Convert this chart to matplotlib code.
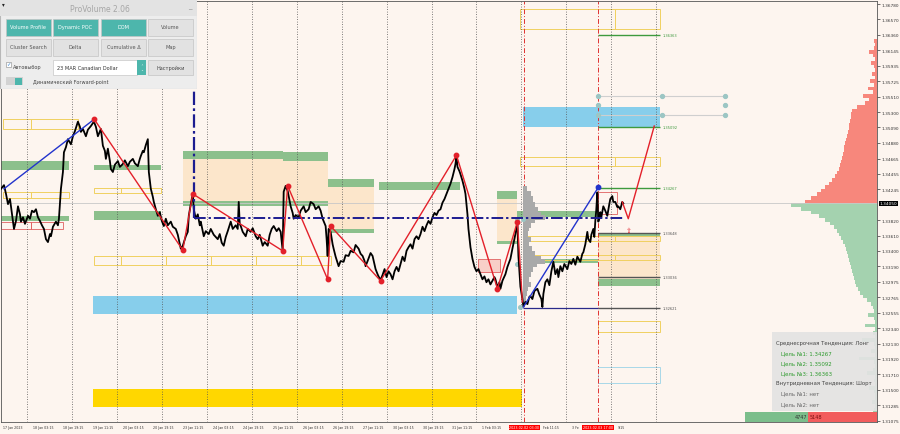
import matplotlib
matplotlib.use("Agg")
import matplotlib.pyplot as plt
from matplotlib.patches import Rectangle
from matplotlib import transforms

BG = "#FDF5EF"

# Close prices of the M15 chart (chart position, price)
price_path = [
    (0, 1.3425), (3, 1.3430), (5, 1.3418), (7, 1.3404), (9, 1.3411), (11, 1.3390), (13, 1.3370), (15, 1.3381), (17, 1.3401), (19, 1.3390),
    (20, 1.3380), (22, 1.3386), (24, 1.3377), (27, 1.3388), (29, 1.3384), (31, 1.3395), (33, 1.3393), (35, 1.3397), (37, 1.3386), (39, 1.3381),
    (41, 1.3375), (43, 1.3370), (45, 1.3356), (47, 1.3352), (49, 1.3363), (50, 1.3360), (52, 1.3373), (55, 1.3380), (57, 1.3375), (58, 1.3384),
    (60, 1.3425), (62, 1.3448), (63, 1.3475), (65, 1.3482), (67, 1.3493), (70, 1.3486), (72, 1.3497), (74, 1.3504), (77, 1.3517), (79, 1.3510),
    (80, 1.3503), (82, 1.3507), (85, 1.3497), (87, 1.3506), (90, 1.3511), (93, 1.3517), (95, 1.3510), (97, 1.3497), (100, 1.3507), (102, 1.3484),
    (104, 1.3477), (105, 1.3466), (107, 1.3480), (109, 1.3463), (110, 1.3452), (112, 1.3448), (114, 1.3458), (117, 1.3463), (119, 1.3455), (122, 1.3459),
    (124, 1.3464), (127, 1.3456), (129, 1.3462), (132, 1.3466), (134, 1.3460), (137, 1.3456), (139, 1.3466), (140, 1.3470), (142, 1.3477), (143, 1.3475),
    (145, 1.3485), (147, 1.3493), (148, 1.3448), (150, 1.3425), (152, 1.3414), (153, 1.3407), (155, 1.3397), (157, 1.3388), (159, 1.3393), (161, 1.3381),
    (163, 1.3374), (165, 1.3384), (167, 1.3375), (170, 1.3380), (172, 1.3373), (175, 1.3370), (177, 1.3362), (180, 1.3343), (182, 1.3347), (184, 1.3356),
    (185, 1.3360), (187, 1.3366), (188, 1.3388), (190, 1.3404), (192, 1.3418), (193, 1.3397), (195, 1.3384), (197, 1.3390), (199, 1.3375), (200, 1.3380),
    (202, 1.3367), (203, 1.3360), (205, 1.3367), (208, 1.3363), (210, 1.3370), (213, 1.3362), (215, 1.3359), (217, 1.3356), (219, 1.3363), (221, 1.3351),
    (223, 1.3347), (225, 1.3359), (227, 1.3367), (230, 1.3380), (232, 1.3370), (235, 1.3375), (237, 1.3370), (238, 1.3407), (239, 1.3377), (240, 1.3374),
    (242, 1.3366), (245, 1.3360), (247, 1.3370), (250, 1.3366), (252, 1.3371), (255, 1.3360), (257, 1.3356), (259, 1.3362), (262, 1.3347), (264, 1.3352),
    (267, 1.3347), (269, 1.3362), (271, 1.3370), (273, 1.3374), (276, 1.3367), (278, 1.3371), (280, 1.3366), (282, 1.3340), (283, 1.3421), (285, 1.3429),
    (287, 1.3422), (290, 1.3401), (292, 1.3392), (293, 1.3384), (295, 1.3389), (298, 1.3386), (300, 1.3395), (303, 1.3401), (305, 1.3393), (308, 1.3397),
    (310, 1.3407), (313, 1.3404), (315, 1.3397), (318, 1.3401), (320, 1.3395), (322, 1.3384), (325, 1.3374), (326, 1.3356), (327, 1.3333), (328, 1.3370),
    (330, 1.3366), (332, 1.3349), (333, 1.3343), (335, 1.3332), (338, 1.3319), (340, 1.3326), (343, 1.3325), (345, 1.3334), (348, 1.3333), (350, 1.3340),
    (353, 1.3338), (355, 1.3348), (358, 1.3343), (360, 1.3336), (362, 1.3333), (364, 1.3326), (365, 1.3319), (367, 1.3326), (370, 1.3337), (372, 1.3333),
    (374, 1.3321), (375, 1.3315), (377, 1.3308), (378, 1.3305), (380, 1.3300), (382, 1.3307), (384, 1.3315), (386, 1.3304), (388, 1.3312), (390, 1.3308),
    (392, 1.3301), (394, 1.3312), (396, 1.3318), (398, 1.3312), (400, 1.3322), (402, 1.3332), (404, 1.3326), (406, 1.3340), (408, 1.3345), (410, 1.3349),
    (412, 1.3343), (414, 1.3356), (416, 1.3360), (418, 1.3356), (420, 1.3363), (422, 1.3373), (424, 1.3367), (426, 1.3375), (428, 1.3381), (430, 1.3377),
    (432, 1.3386), (434, 1.3392), (436, 1.3389), (438, 1.3395), (440, 1.3397), (442, 1.3406), (444, 1.3411), (446, 1.3418), (448, 1.3425), (450, 1.3432),
    (452, 1.3441), (454, 1.3452), (455, 1.3459), (456, 1.3470), (457, 1.3455), (459, 1.3449), (460, 1.3445), (462, 1.3436), (464, 1.3425), (465, 1.3418),
    (467, 1.3390), (468, 1.3370), (470, 1.3345), (472, 1.3329), (474, 1.3318), (476, 1.3312), (478, 1.3315), (480, 1.3308), (482, 1.3301), (484, 1.3305),
    (486, 1.3297), (488, 1.3301), (490, 1.3294), (492, 1.3299), (494, 1.3304), (495, 1.3301), (497, 1.3290), (499, 1.3297), (500, 1.3288), (502, 1.3299),
    (505, 1.3308), (507, 1.3318), (510, 1.3329), (512, 1.3343), (514, 1.3356), (515, 1.3363), (517, 1.3378), (518, 1.3333), (520, 1.3291), (522, 1.3274),
    (523, 1.3264), (525, 1.3270), (527, 1.3267), (529, 1.3277), (530, 1.3278), (532, 1.3274), (534, 1.3285), (537, 1.3288), (539, 1.3280), (541, 1.3274),
    (542, 1.3263), (543, 1.3281), (545, 1.3297), (547, 1.3301), (549, 1.3293), (551, 1.3312), (553, 1.3325), (555, 1.3308), (557, 1.3315), (558, 1.3304),
    (560, 1.3319), (562, 1.3312), (564, 1.3322), (567, 1.3315), (569, 1.3326), (571, 1.3322), (573, 1.3329), (575, 1.3321), (577, 1.3332), (580, 1.3325),
    (582, 1.3336), (583, 1.3338), (585, 1.3349), (587, 1.3366), (588, 1.3356), (590, 1.3352), (591, 1.3362), (593, 1.3370), (594, 1.3359), (595, 1.3381),
    (596, 1.3397), (597, 1.3420), (598, 1.3380), (599, 1.3384), (600, 1.3393), (601, 1.3386), (603, 1.3401), (605, 1.3395), (607, 1.3388), (609, 1.3404),
    (610, 1.3411), (612, 1.3415), (613, 1.3407), (615, 1.3407), (617, 1.3400), (618, 1.3401), (620, 1.3397), (622, 1.3407), (623, 1.3405),
]
current_price = 1.34050

# ZigZag swings (red) and trend legs (blue)
zigzag_pos = [93, 182, 192, 282, 287, 327, 330, 380, 456, 497, 517, 522]
zigzag_price = [1.3521, 1.3341, 1.3418, 1.3340, 1.3429, 1.3301, 1.3374, 1.3299, 1.3471, 1.3288, 1.3380, 1.3270]
blue_leg1 = [(3, 1.3425), (93, 1.3520)]
blue_leg2 = [(523, 1.3263), (598, 1.3427)]
forecast_pos = [622, 628, 654]
forecast_price = [1.3407, 1.3384, 1.3511]

# Zones: (start, end, top price, bottom price)
green_zones = [
    (0, 68, 1.3463, 1.3451), (0, 68, 1.3388, 1.3381), (93, 160, 1.3458, 1.3451), (93, 160, 1.3395, 1.3382),
    (182, 282, 1.3477, 1.3466), (282, 327, 1.3475, 1.3463), (182, 327, 1.3408, 1.3401), (327, 373, 1.3438, 1.3427),
    (327, 373, 1.3370, 1.3364), (378, 460, 1.3434, 1.3423), (497, 517, 1.3422, 1.3411), (497, 517, 1.3353, 1.3349),
    (517, 598, 1.3395, 1.3386), (523, 598, 1.3329, 1.3323), (598, 660, 1.3364, 1.3359), (598, 660, 1.3301, 1.3292),
]
beige_zones = [(182, 327, 1.3466, 1.3408), (327, 373, 1.3427, 1.3370), (497, 517, 1.3411, 1.3353), (598, 660, 1.3359, 1.3301)]
blue_zones = [(92, 517, 1.3278, 1.3253), (523, 660, 1.3537, 1.3510)]
gold_zones = [(92, 522, 1.3151, 1.3126)]
yellow_boxes = [
    (2, 30, 1.3521, 1.3507), (30, 77, 1.3521, 1.3507), (2, 30, 1.3421, 1.3413), (30, 68, 1.3421, 1.3413),
    (93, 120, 1.3426, 1.3419), (120, 160, 1.3426, 1.3419),
    (93, 120, 1.3333, 1.3321), (120, 165, 1.3333, 1.3321), (165, 210, 1.3333, 1.3321), (210, 255, 1.3333, 1.3321),
    (255, 300, 1.3333, 1.3321), (300, 330, 1.3333, 1.3321),
    (520, 615, 1.3671, 1.3644), (615, 660, 1.3671, 1.3644), (520, 615, 1.3469, 1.3456), (615, 660, 1.3469, 1.3456),
    (523, 615, 1.3360, 1.3353), (615, 660, 1.3360, 1.3353), (523, 615, 1.3334, 1.3327), (615, 660, 1.3334, 1.3327),
    (598, 660, 1.3244, 1.3229),
]
red_boxes = [(0, 30, 1.3380, 1.3370), (30, 62, 1.3380, 1.3370), (478, 500, 1.3329, 1.3311), (598, 617, 1.3421, 1.3390)]

# Target levels drawn at the right of the chart
level_prices = [1.36363, 1.35092, 1.34267, 1.33648, 1.33036, 1.32621]
level_colors = ["#3E9A3E", "#3E9A3E", "#3E9A3E", "#555555", "#555555", "#555555"]

# Session volume profile (grey) next to the blue leg
session_profile = [
    (1.3425, 4), (1.3418, 8), (1.3411, 10), (1.3404, 12), (1.3397, 15), (1.3390, 18), (1.3386, 22), (1.3381, 12),
    (1.3375, 8), (1.3370, 6), (1.3363, 5), (1.3356, 8), (1.3349, 6), (1.3343, 9), (1.3336, 12), (1.3329, 18),
    (1.3325, 22), (1.3321, 14), (1.3315, 10), (1.3308, 8), (1.3301, 6), (1.3294, 8), (1.3288, 5), (1.3281, 4),
    (1.3274, 3), (1.3267, 2),
]

# Right side profile: widths above (red) and below (green) the current price, 5 pip rows
red_profile = [72, 66, 60, 56, 52, 48, 45, 42, 40, 38, 37, 36, 35, 34, 33, 33, 32, 31, 30, 29, 28, 28, 27, 26, 26,
               25, 20, 12, 8, 14, 4, 9, 3, 7, 2, 5, 2, 3, 6, 2, 4, 8, 3, 2, 3]
green_profile = [86, 76, 66, 58, 52, 47, 43, 40, 38, 36, 34, 32, 31, 30, 29, 28, 27, 26, 25, 24, 23, 22, 21, 19, 17,
                 14, 10, 6, 4, 3, 9, 3, 2, 12, 2, 4, 2, 15, 3, 2, 6, 2, 18, 3, 2, 4, 10, 2, 3, 2, 8, 3, 2, 2, 5, 2, 3, 4]
row_step = 0.0005

price_ticks = [1.36780, 1.36570, 1.36360, 1.36145, 1.35935, 1.35725, 1.35510, 1.35300, 1.35090, 1.34880,
               1.34665, 1.34455, 1.34245, 1.33820, 1.33610, 1.33400, 1.33190, 1.32975, 1.32765, 1.32555,
               1.32340, 1.32130, 1.31920, 1.31710, 1.31500, 1.31285, 1.31075]
# time axis; labels partly hidden by the red marker boxes keep only their visible part
time_labels = ["17 Jan 2023", "18 Jan 03:15", "18 Jan 19:15", "19 Jan 11:15", "20 Jan 03:15", "20 Jan 19:15",
               "23 Jan 11:15", "24 Jan 03:15", "24 Jan 19:15", "25 Jan 11:15", "26 Jan 03:15", "26 Jan 19:15",
               "27 Jan 11:15", "30 Jan 03:15", "30 Jan 19:15", "31 Jan 11:15", "1 Feb 03:15"]
tail_labels = [(543, "Feb 11:15"), (572, "3 Fe"), (617, "9:15")]
marker_times = [(524, "2023.02.02 03:30"), (598, "2023.02.03 17:00")]

trend_lines = [("Среднесрочная Тенденция: Лонг", "#444444", 4),
               ("Цель №1: 1.34267", "#2E9A2E", 9), ("Цель №2: 1.35092", "#2E9A2E", 9), ("Цель №3: 1.36363", "#2E9A2E", 9),
               ("Внутридневная Тенденция: Шорт", "#444444", 4),
               ("Цель №1: нет", "#666666", 9), ("Цель №2: нет", "#666666", 9)]
buy_volume = 4747
sell_volume = 5148

# ---------------- main chart ----------------
fig = plt.figure(figsize=(9, 4.35), dpi=100, facecolor=BG)
ax = fig.add_axes([1 / 900, 12 / 435, 876 / 900, 421 / 435])
ax.set_facecolor(BG)
ax.set_xlim(0, 877)
ax.set_ylim(1.31055, 1.36823)

for x0, x1, top, bot in beige_zones:
    ax.add_patch(Rectangle((x0, bot), x1 - x0, top - bot, facecolor="#FCE6CB", edgecolor="none", zorder=1))
for x0, x1, top, bot in green_zones:
    ax.add_patch(Rectangle((x0, bot), x1 - x0, top - bot, facecolor="#8CC08C", edgecolor="none", zorder=1.2))
for x0, x1, top, bot in blue_zones:
    ax.add_patch(Rectangle((x0, bot), x1 - x0, top - bot, facecolor="#87CEEB", edgecolor="none", zorder=1.2))
for x0, x1, top, bot in gold_zones:
    ax.add_patch(Rectangle((x0, bot), x1 - x0, top - bot, facecolor="#FFD700", edgecolor="none", zorder=1.2))
for x0, x1, top, bot in yellow_boxes:
    ax.add_patch(Rectangle((x0, bot), x1 - x0, top - bot, facecolor="none", edgecolor="#F0D060", lw=0.7, zorder=1.3))
for i, (x0, x1, top, bot) in enumerate(red_boxes):
    face = "#F8CFC8" if i == 2 else "none"
    ax.add_patch(Rectangle((x0, bot), x1 - x0, top - bot, facecolor=face, edgecolor="#E06060", lw=0.6, zorder=1.3))
ax.add_patch(Rectangle((598, 1.3159), 62, 0.0022, facecolor="none", edgecolor="#A8D8E8", lw=0.7, zorder=1.3))

# grid and session separators
for gx in range(26, 660, 45):
    ax.axvline(gx, color="#555555", ls=(0, (1, 2)), lw=0.6, zorder=1.5)
for mx, _ in marker_times:
    ax.axvline(mx, color="#E03030", ls=(0, (5, 2, 1, 2)), lw=0.7, zorder=1.5)
ax.axhline(current_price, color="#C8C8C8", lw=0.6, zorder=1.4)

# right side volume profile
for i, w in enumerate(red_profile):
    ax.barh(current_price + i * row_step, w, height=row_step, left=877 - w, color="#F7877C", lw=0, zorder=1.1, align="edge")
for i, w in enumerate(green_profile):
    ax.barh(current_price - (i + 1) * row_step, w, height=row_step, left=877 - w, color="#A4D2AF", lw=0, zorder=1.1, align="edge")

# grey session profile
for p, w in session_profile:
    ax.barh(p, w, height=0.0007, left=523, color="#A9A9A9", lw=0, zorder=1.6)

# level lines and labels
for lp, lc in zip(level_prices, level_colors):
    ax.hlines(lp, 598, 660, color="#3E9A3E" if lc != "#555555" else lc, lw=1.0, zorder=2)
    ax.text(662, lp, f"{lp:.5f}", color=lc, fontsize=2.6, va="center", ha="left", zorder=3)
ax.hlines(1.32621, 523, 598, color="#2A2A8A", lw=0.9, zorder=2)

# grey guide lines with anchor dots
for gp in (1.3552, 1.3526):
    ax.hlines(gp, 598, 725, color="#CFCFCF", lw=0.8, zorder=2)
    ax.plot([598, 662, 725], [gp, gp, gp], "o", ms=2.8, color="#9CC6C4", zorder=3)
ax.plot([598, 725], [1.3540, 1.3540], "o", ms=2.8, color="#9CC6C4", zorder=3)
ax.plot([517, 523, 517, 520], [1.3384, 1.3384, 1.3322, 1.3263], "o", ms=2.6, color="#9CC6C4", zorder=3)

# price
xs = [p[0] for p in price_path]
ys = [p[1] for p in price_path]
ax.plot(xs, ys, color="black", lw=1.3, zorder=4)

# navy dash-dot pivot lines
ax.plot([193, 193], [1.36823, 1.3385], color="#1C1C90", lw=1.6, ls=(0, (6, 1.5, 1.2, 1.5)), zorder=4.5)
ax.plot([193, 623], [1.3385, 1.3385], color="#1C1C90", lw=1.4, ls=(0, (6, 1.5, 1.2, 1.5)), zorder=4.5)

# zigzag
ax.plot(zigzag_pos, zigzag_price, color="#E3202A", lw=1.0, zorder=5)
ax.plot(zigzag_pos[:-1], zigzag_price[:-1], "o", color="#E3202A", ms=3.2, zorder=5.5)
for leg in (blue_leg1, blue_leg2):
    ax.plot([leg[0][0], leg[1][0]], [leg[0][1], leg[1][1]], color="#2233CC", lw=1.0, zorder=5)
ax.plot([blue_leg2[1][0]], [blue_leg2[1][1]], "o", color="#2233CC", ms=3.2, zorder=5.5)
ax.plot(forecast_pos, forecast_price, color="#E3202A", lw=1.0, zorder=5)
ax.text(628, 1.3373, "⇧", color="#E3202A", fontsize=5, ha="center", va="top", zorder=5)

# axes styling
for s in ax.spines.values():
    s.set_color("#555555")
    s.set_linewidth(0.6)
ax.yaxis.tick_right()
ax.set_yticks(price_ticks)
ax.set_yticklabels([f"{v:.5f}" for v in price_ticks])
ax.tick_params(axis="y", length=2, width=0.5, pad=1.5, labelsize=3.1, colors="#333333")
ax.set_xticks([2 + 30 * i for i in range(len(time_labels))])
ax.set_xticklabels(time_labels, ha="left")
ax.tick_params(axis="x", length=0, pad=2.5, labelsize=2.3, colors="#333333")

trans_x = transforms.blended_transform_factory(ax.transData, ax.transAxes)
for tx, label in tail_labels:
    ax.text(tx, -0.013, label, transform=trans_x, color="#333333", fontsize=2.3, ha="left", va="center",
            clip_on=False)
for mx, label in marker_times:
    ax.text(mx, -0.013, label, transform=trans_x, color="white", fontsize=2.4, ha="center", va="center",
            bbox=dict(boxstyle="square,pad=0.25", fc="#FF0000", ec="none"), zorder=6, clip_on=False)
trans_y = transforms.blended_transform_factory(ax.transAxes, ax.transData)
ax.text(1.003, current_price, f"{current_price:.5f}", transform=trans_y, color="white", fontsize=3.1,
        ha="left", va="center", bbox=dict(boxstyle="square,pad=0.2", fc="black", ec="none"), zorder=6, clip_on=False)

# ---------------- ProVolume panel ----------------
pan = fig.add_axes([0, 1 - 90 / 435, 197 / 900, 89 / 435])
pan.set_xlim(0, 197)
pan.set_ylim(89, 0)
pan.axis("off")
pan.add_patch(Rectangle((0, 0), 197, 89, facecolor="#EDEDED", edgecolor="#B8B8B8", lw=0.8))
pan.add_patch(Rectangle((0, 0), 197, 16, facecolor="#E3E3E3", edgecolor="none"))
pan.text(100, 8.5, "ProVolume 2.06", color="#A6A6A6", fontsize=5.5, ha="center", va="center")
pan.text(2, 4, "▾", color="#222222", fontsize=4, ha="left", va="center")
pan.text(190, 6, "_", color="#888888", fontsize=5, ha="center", va="center")

buttons = [("Volume Profile", 6, 19, True), ("Dynamic POC", 53, 19, True), ("DOM", 101, 19, True),
           ("Volume", 148, 19, False), ("Cluster Search", 6, 39, False), ("Delta", 53, 39, False),
           ("Cumulative Δ", 101, 39, False), ("Map", 148, 39, False)]
for label, bx, by, active in buttons:
    pan.add_patch(Rectangle((bx, by), 45, 17, facecolor="#4DB6AC" if active else "#E2E2E2",
                            edgecolor="#C4C4C4", lw=0.5))
    pan.text(bx + 22.5, by + 8, label, color="white" if active else "#555555", fontsize=3.6,
             ha="center", va="center")

pan.add_patch(Rectangle((6, 62), 5, 5, facecolor="white", edgecolor="#888888", lw=0.4))
pan.text(6.5, 63, "✓", color="#2E7FD0", fontsize=3.8, ha="left", va="center")
pan.text(13, 66.5, "Автовыбор", color="#444444", fontsize=3.6, ha="left", va="center")
pan.add_patch(Rectangle((53, 60), 84, 15, facecolor="white", edgecolor="#C8C8C8", lw=0.5))
pan.text(57, 67.5, "23 MAR Canadian Dollar", color="#333333", fontsize=3.6, ha="left", va="center")
pan.add_patch(Rectangle((137, 60), 9, 15, facecolor="#4DB6AC", edgecolor="none"))
pan.text(141.5, 67.5, "⌃\n⌄", color="white", fontsize=2.5, ha="center", va="center", linespacing=0.8)
pan.add_patch(Rectangle((148, 60), 45, 15, facecolor="#E2E2E2", edgecolor="#C4C4C4", lw=0.5))
pan.text(170.5, 67.5, "Настройки", color="#444444", fontsize=3.6, ha="center", va="center")
pan.add_patch(Rectangle((6, 77), 17, 8, facecolor="#D2D2D2", edgecolor="none"))
pan.add_patch(Rectangle((15, 77.5), 7, 7, facecolor="#4DB6AC", edgecolor="none"))
pan.text(33, 81, "Динамический Forward-point", color="#444444", fontsize=3.6, ha="left", va="center")

# ---------------- trend info box ----------------
info = fig.add_axes([772 / 900, 1 - 412 / 435, 105 / 900, 79 / 435])
info.set_xlim(0, 105)
info.set_ylim(79, 0)
info.axis("off")
info.add_patch(Rectangle((0, 0), 105, 79, facecolor="#E3E3E3", edgecolor="none", alpha=0.92))
for i, (txt, col, indent) in enumerate(trend_lines):
    info.text(indent, 10 + i * 10.2, txt, color=col, fontsize=3.9, ha="left", va="center")

# buy / sell volume bar
vol = fig.add_axes([745 / 900, 1 - 423 / 435, 132 / 900, 10 / 435])
vol.barh([0], [buy_volume], height=1, color="#7BBE8B")
vol.barh([0], [sell_volume], height=1, left=buy_volume, color="#F25C5C")
vol.set_xlim(0, buy_volume + sell_volume)
vol.set_ylim(-0.5, 0.5)
vol.axis("off")
vol.text(buy_volume - 60, 0, str(buy_volume), color="#333333", fontsize=3.6, ha="right", va="center")
vol.text(buy_volume + 60, 0, str(sell_volume), color="#7A1010", fontsize=3.6, ha="left", va="center")

fig.savefig("out.png", dpi=100, facecolor=BG)
